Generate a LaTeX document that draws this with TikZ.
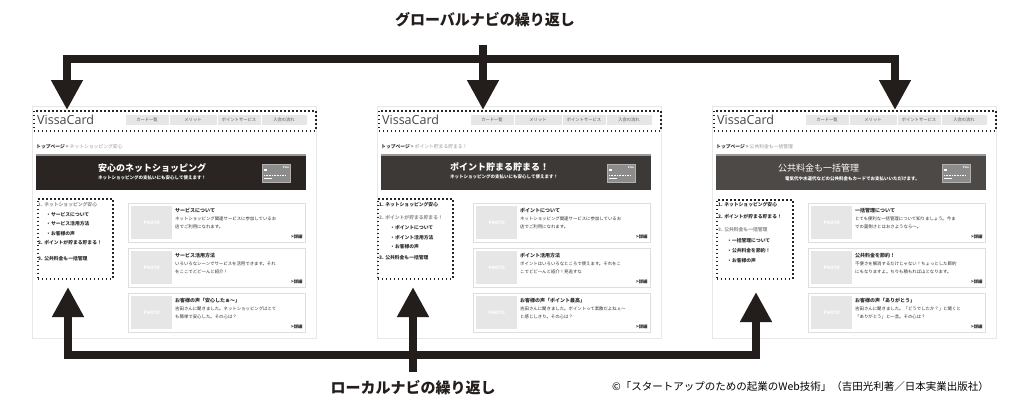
\documentclass[tikz,border=0pt]{standalone}
\usepackage{fontspec}
\setmainfont{Noto Sans CJK JP}
\newfontfamily\logofont{Open Sans}
\usetikzlibrary{arrows.meta}

\definecolor{arrowink}{RGB}{35,30,27}
\definecolor{bannerA}{RGB}{42,37,34}
\definecolor{bannerB}{RGB}{60,57,55}
\definecolor{bannerC}{RGB}{76,73,71}
\definecolor{pageline}{RGB}{232,232,232}
\definecolor{photofill}{RGB}{230,230,230}
\definecolor{navfill}{RGB}{230,230,230}
\definecolor{softtext}{RGB}{150,150,150}
\definecolor{darktext}{RGB}{45,45,45}

\begin{document}
\begin{tikzpicture}[x=1pt, y=-1pt,
    bigline/.style={draw=arrowink, line width=8pt},
    bigarrow/.style={bigline, -{Triangle[width=30pt,length=30pt]}},
    bigboth/.style={bigline, {Triangle[width=30pt,length=30pt]}-{Triangle[width=30pt,length=30pt]}},
    biglabel/.style={font=\fontsize{15}{18}\selectfont\bfseries, text=arrowink, inner sep=0},
    dotbox/.style={draw=black!85, line width=1.5pt, dash pattern=on 1.5pt off 2.5pt, inner sep=0, anchor=north west},
    pageframe/.style={draw=pageline, line width=1pt},
    logo/.style={font=\logofont\fontsize{12.5}{14}\selectfont, text=black!72, anchor=west, inner sep=0},
    navbar/.style={fill=navfill, draw=white, line width=0.8pt},
    navitem/.style={font=\fontsize{4.3}{5}\selectfont, text=black!65, inner sep=0},
    crumb/.style={font=\fontsize{4.8}{6}\selectfont, text=darktext, anchor=west, inner sep=0},
    banner/.style={inner sep=0, anchor=north west, minimum width=270, minimum height=35},
    bannertitle/.style={font=\fontsize{9}{11}\selectfont\bfseries, text=white, anchor=west, inner sep=0},
    bannersub/.style={font=\fontsize{4.5}{5}\selectfont\bfseries, text=white, anchor=west, inner sep=0},
    visacard/.style={fill=black!45, draw=black!30, line width=0.5pt, inner sep=0, anchor=north west, minimum width=28, minimum height=18},
    lnavitem/.style={font=\fontsize{4.8}{6}\selectfont\bfseries, text=darktext, anchor=west, inner sep=0},
    lnavcur/.style={lnavitem, text=softtext},
    cardbox/.style={draw=black!13, line width=0.8pt, inner sep=0, anchor=north west, minimum width=177, minimum height=39},
    photo/.style={fill=photofill, text=white, font=\fontsize{4.5}{5}\selectfont\bfseries, inner sep=0, anchor=north west, minimum width=41, minimum height=33},
    cardtitle/.style={font=\fontsize{5}{6}\selectfont\bfseries, text=darktext, anchor=west, inner sep=0},
    cardbody/.style={font=\fontsize{4.4}{8}\selectfont, text=darktext, align=left, anchor=north west, inner sep=0},
    more/.style={font=\fontsize{4.4}{5}\selectfont\bfseries, text=darktext, anchor=south east, inner sep=0},
    note/.style={font=\fontsize{10.5}{12}\selectfont, text=black, anchor=west, inner sep=0}]

\fill[white] (0,0) rectangle (1010,418);
\useasboundingbox (0,0) rectangle (1010,418);

% the three pages
\foreach \p/\L/\bfill in {1/36/bannerA, 2/381/bannerB, 3/716/bannerC} {
  \draw[pageframe] (\L-4,106) rectangle (\L+280,338);
  \node[dotbox, minimum width=282, minimum height=20] (gnav\p) at (\L-3,110) {};
  \node[logo] (logo\p) at (\L+1,120) {VissaCard};
  \foreach \a/\b/\t [count=\n] in {89/133/カード一覧, 133/181/メリット, 181/225/ポイントサービス, 225/271/入会の流れ} {
    \draw[navbar] (\L+\a,114) rectangle (\L+\b,125);
    \node[navitem] (nav\p-\n) at ({\L+(\a+\b)/2},119.5) {\t};
  }
  \node[banner, fill=\bfill] (banner\p) at (\L,155) {};
  \draw[black!40, line width=1.2pt] (banner\p.north west) -- (banner\p.north east);
  \node[visacard] (visa\p) at (\L+226,164) {};
  \node[font=\fontsize{2.8}{3}\selectfont\bfseries, text=white, anchor=north east, inner sep=0] (visaname\p) at ([xshift=-1.5pt,yshift=-1.5pt]visa\p.north east) {Visa};
  \fill[white] ([xshift=2pt,yshift=-5pt]visa\p.north west) rectangle ++(2.5,2);
  \draw[white, line width=0.5pt, dash pattern=on 1pt off 0.6pt] ([xshift=2pt,yshift=-11pt]visa\p.north west) -- ++(22,0);
  \draw[white, line width=0.5pt] ([xshift=2pt,yshift=-14.5pt]visa\p.north west) -- ++(8,0);
  \foreach \c/\top in {1/203, 2/248, 3/293} {
    \node[cardbox] (card\p\c) at (\L+92,\top) {};
    \node[photo] (photo\p\c) at (\L+95,\top+3) {PHOTO};
    \node[more] (more\p\c) at ([xshift=-3pt,yshift=4pt]card\p\c.south east) {>詳細};
  }
}

% page 1
\node[crumb] (crumb1) at (36,147) {\textbf{トップページ} > \textcolor{softtext}{ネットショッピング安心}};
\node[bannertitle] (title1) at (98,168) {安心のネットショッピング};
\node[bannersub] (sub1) at (98,178) {ネットショッピングの支払いにも安心して使えます！};
\node[dotbox, minimum width=75, minimum height=80] (lnav1) at (37,198) {};
\foreach \st/\x/\y/\t [count=\i] in {lnavcur/38/205/1. ネットショッピング安心, lnavitem/46/215/・サービスについて, lnavitem/46/224/・サービス活用方法, lnavitem/46/234/・お客様の声, lnavitem/38/243/2. ポイントが貯まる貯まる！, lnavitem/38/259/3. 公共料金も一括管理}
  \node[\st] (ln1-\i) at (\x,\y) {\t};
\foreach \c/\ttl/\la/\lb in {1/サービスについて/ネットショッピング関連サービスに参加しているお/店でご利用になれます。, 2/サービス活用方法/いろいろなシーンでサービスを活用できます。それ/をここでどど〜んと紹介！, 3/お客様の声「安心したぁ〜」/吉田さんに聞きました。ネットショッピングはとて/も簡単で安心した。その心は？} {
  \node[cardtitle] (ct1-\c) at ([xshift=47pt,yshift=-7.5pt]card1\c.north west) {\ttl};
  \node[cardbody] (cb1-\c) at ([xshift=47pt,yshift=-13.5pt]card1\c.north west) {\la\\\lb};
}

% page 2
\node[crumb] (crumb2) at (381,147) {\textbf{トップページ} > \textcolor{softtext}{ポイント貯まる貯まる！}};
\node[bannertitle] (title2) at (450,167) {ポイント貯まる貯まる！};
\node[bannersub] (sub2) at (450,177) {ネットショッピングの支払いにも安心して使えます！};
\node[dotbox, minimum width=75, minimum height=80] (lnav2) at (377,198) {};
\foreach \st/\x/\y/\t [count=\i] in {lnavitem/379/205/1. ネットショッピング安心, lnavcur/379/218/2. ポイントが貯まる貯まる！, lnavitem/390/228/・ポイントについて, lnavitem/390/238/・ポイント活用方法, lnavitem/390/247/・お客様の声, lnavitem/379/258/3. 公共料金も一括管理}
  \node[\st] (ln2-\i) at (\x,\y) {\t};
\foreach \c/\ttl/\la/\lb in {1/ポイントについて/ネットショッピング関連サービスに参加しているお/店でご利用になれます。, 2/ポイント活用方法/ポイントはいろいろなところで使えます。それをこ/こでどど〜んと紹介！見逃すな, 3/お客様の声「ポイント最高」/吉田さんに聞きました。ポイントって素敵だよねぇ〜/と感じしきり。その心は？} {
  \node[cardtitle] (ct2-\c) at ([xshift=47pt,yshift=-7.5pt]card2\c.north west) {\ttl};
  \node[cardbody] (cb2-\c) at ([xshift=47pt,yshift=-13.5pt]card2\c.north west) {\la\\\lb};
}

% page 3
\node[crumb] (crumb3) at (716,147) {\textbf{トップページ} > \textcolor{softtext}{公共料金も一括管理}};
\node[bannertitle, font=\fontsize{9}{11}\selectfont] (title3) at (778,168) {公共料金も一括管理};
\node[bannersub] (sub3) at (785,179) {電気代や水道代などの公共料金もカードでお支払いいただけます。};
\node[dotbox, minimum width=76, minimum height=79] (lnav3) at (716,199) {};
\foreach \st/\x/\y/\t [count=\i] in {lnavitem/718/205/1. ネットショッピング安心, lnavitem/718/217/2. ポイントが貯まる貯まる！, lnavcur/718/230/3. 公共料金も一括管理, lnavitem/727/241/・一括管理について, lnavitem/727/251/・公共料金を節約！, lnavitem/727/261/・お客様の声}
  \node[\st] (ln3-\i) at (\x,\y) {\t};
\foreach \c/\ttl/\la/\lb in {1/一括管理について/とても便利な一括管理について知りましょう。今ま/での面倒さとはおさようなら〜。, 2/公共料金を節約！/不便さを解消するだけじゃない！ちょっとした節約/にもなりますよ。ちりも積もれば山となります。, 3/お客様の声「ありがとう」/吉田さんに聞きました。「どうでしたか？」と聞くと/「ありがとう」と一言。その心は？} {
  \node[cardtitle] (ct3-\c) at ([xshift=47pt,yshift=-7.5pt]card3\c.north west) {\ttl};
  \node[cardbody] (cb3-\c) at ([xshift=47pt,yshift=-13.5pt]card3\c.north west) {\la\\\lb};
}

% global navigation arrows
\node[biglabel] (glabel) at (485,20) {グローバルナビの繰り返し};
\coordinate (gtop) at (483,45);
\coordinate (gleft) at (67,59);
\coordinate (gright) at (895,59);
\draw[bigboth] (gleft |- gnav1.north) -- (gleft) -- (gright) -- (gright |- gnav3.north);
\draw[bigarrow] (gtop) -- (gtop |- gnav2.north);

% local navigation arrows
\node[biglabel] (llabel) at (413,388) {ローカルナビの繰り返し};
\coordinate (lstem) at (413,372);
\coordinate (lleft) at (68,355);
\coordinate (lright) at (756,355);
\coordinate (ltip1) at (68,287);
\coordinate (ltip2) at (413,287);
\coordinate (ltip3) at (756,292);
\draw[bigboth] (ltip1) -- (lleft) -- (lright) -- (ltip3);
\draw[bigarrow] (lstem) -- (ltip2);

\node[note] (credit) at (612,387) {©「スタートアップのための起業のWeb技術」（吉田光利著／日本実業出版社）};
\end{tikzpicture}
\end{document}
